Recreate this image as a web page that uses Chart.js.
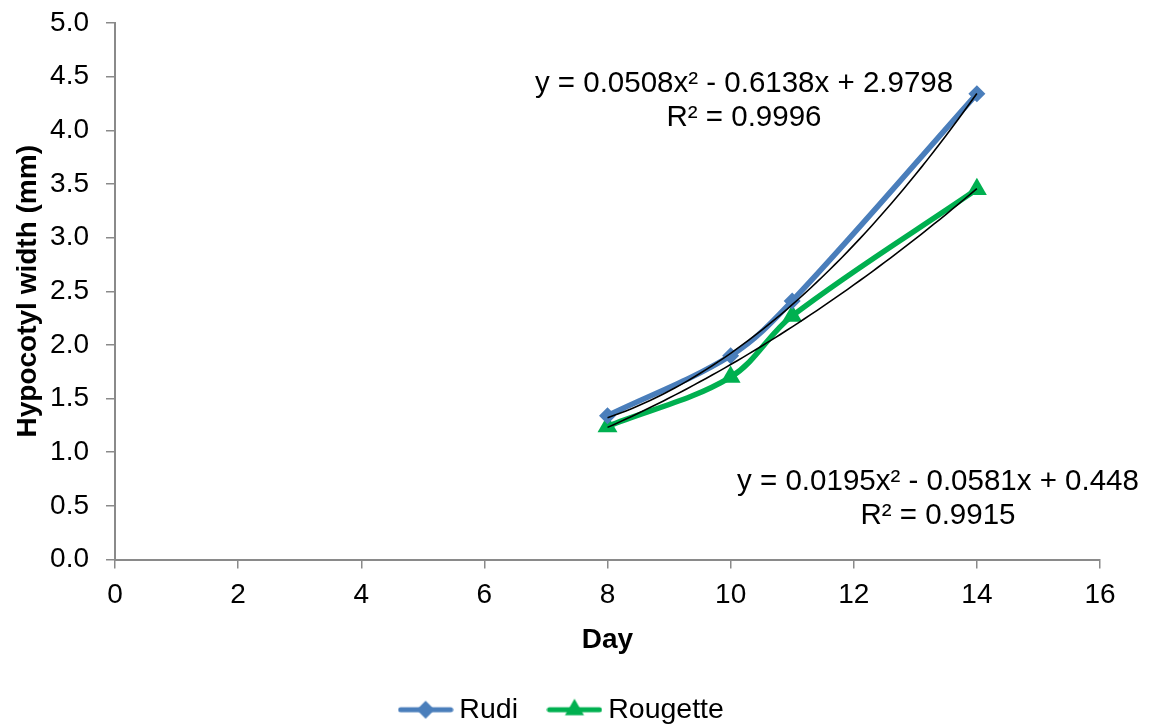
<!DOCTYPE html>
<html>
<head>
<meta charset="utf-8">
<title>Hypocotyl width</title>
<script src="https://cdn.jsdelivr.net/npm/chart.js@4/dist/chart.umd.min.js"></script>
<style>
  html, body { margin: 0; padding: 0; background: #fff; }
  #wrap { width: 1156px; height: 725px; }
</style>
</head>
<body>
<div id="wrap"><canvas id="widthChart" width="1156" height="725"></canvas></div>
<script>
// measured days and hypocotyl widths (mm)
const days = [8, 10, 11, 14];
const rudiWidth = [1.34, 1.90, 2.41, 4.34];
const rougetteWidth = [1.24, 1.70, 2.27, 3.45];

// quadratic trendline coefficients [a, b, c] for y = ax² + bx + c
const rudiFit = [0.0508, -0.6138, 2.9798];
const rougetteFit = [0.0195, -0.0581, 0.448];
const rudiR2 = '0.9996';
const rougetteR2 = '0.9915';

const xTicks = [0, 2, 4, 6, 8, 10, 12, 14, 16];
const yTicks = [0, 0.5, 1, 1.5, 2, 2.5, 3, 3.5, 4, 4.5, 5];

const BLUE = '#4a7ebb';
const GREEN = '#00b050';
const AXIS = '#8a8a8a';
const FONT = "'Liberation Sans', Arial, sans-serif";

function fitCurve(coef) {
    const pts = [];
    for (let i = 0; i <= 60; i++) {
        const x = days[0] + (days[days.length - 1] - days[0]) * i / 60;
        pts.push({ x: x, y: coef[0] * x * x + coef[1] * x + coef[2] });
    }
    return pts;
}

function fmt(n) {
    return Math.abs(n).toString();
}

function equationText(coef) {
    const s1 = coef[1] < 0 ? ' - ' : ' + ';
    const s2 = coef[2] < 0 ? ' - ' : ' + ';
    return 'y = ' + fmt(coef[0]) + 'x²' + s1 + fmt(coef[1]) + 'x' + s2 + fmt(coef[2]);
}

function legendIcon(color, style, radius) {
    const c = document.createElement('canvas');
    c.width = 56;
    c.height = 24;
    const g = c.getContext('2d');
    g.strokeStyle = color;
    g.lineWidth = 5;
    g.lineCap = 'round';
    g.beginPath();
    g.moveTo(3, 12);
    g.lineTo(53, 12);
    g.stroke();
    g.fillStyle = color;
    g.beginPath();
    if (style === 'rectRot') {
        g.moveTo(28, 12 - radius);
        g.lineTo(28 + radius, 12);
        g.lineTo(28, 12 + radius);
        g.lineTo(28 - radius, 12);
    } else {
        const h = radius * 1.5;
        const w = radius * Math.sqrt(3) / 2;
        g.moveTo(28, 12 - radius);
        g.lineTo(28 + w, 12 - radius + h);
        g.lineTo(28 - w, 12 - radius + h);
    }
    g.closePath();
    g.fill();
    return c;
}

const icons = {
    Rudi: legendIcon(BLUE, 'rectRot', 9),
    Rougette: legendIcon(GREEN, 'triangle', 11)
};

// equation labels next to the trendlines
const trendLabels = [
    { lines: [equationText(rudiFit), 'R² = ' + rudiR2], x: 744, y: 84 },
    { lines: [equationText(rougetteFit), 'R² = ' + rougetteR2], x: 938, y: 482 }
];

const trendLabelPlugin = {
    id: 'trendLabels',
    afterDraw(chart) {
        const ctx = chart.ctx;
        ctx.save();
        ctx.font = '29.5px ' + FONT;
        ctx.fillStyle = '#000';
        ctx.textAlign = 'center';
        ctx.textBaseline = 'middle';
        trendLabels.forEach(lbl => {
            lbl.lines.forEach((t, i) => ctx.fillText(t, lbl.x, lbl.y + i * 34));
        });
        ctx.restore();
    }
};

// move the legend row a little lower and to the right
const legendNudge = {
    id: 'legendNudge',
    afterLayout(chart) {
        const lg = chart.legend;
        if (!lg) return;
        lg.top += 9;
        lg.left += 15;
        lg.right += 15;
    }
};

const ctx = document.getElementById('widthChart').getContext('2d');
new Chart(ctx, {
    type: 'scatter',
    data: {
        datasets: [
            {
                label: 'Rudi',
                data: days.map((d, i) => ({ x: d, y: rudiWidth[i] })),
                showLine: true,
                borderColor: BLUE,
                backgroundColor: BLUE,
                borderWidth: 5.5,
                tension: 0.35,
                pointStyle: 'rectRot',
                pointRadius: 8.5,
                pointBorderWidth: 0,
                order: 2
            },
            {
                label: 'Rougette',
                data: days.map((d, i) => ({ x: d, y: rougetteWidth[i] })),
                showLine: true,
                borderColor: GREEN,
                backgroundColor: GREEN,
                borderWidth: 5.5,
                tension: 0.35,
                pointStyle: 'triangle',
                pointRadius: 11.5,
                pointBorderWidth: 0,
                order: 2
            },
            {
                label: 'trend-rudi',
                data: fitCurve(rudiFit),
                showLine: true,
                borderColor: '#000',
                borderWidth: 1.6,
                pointRadius: 0,
                tension: 0,
                order: 1
            },
            {
                label: 'trend-rougette',
                data: fitCurve(rougetteFit),
                showLine: true,
                borderColor: '#000',
                borderWidth: 1.6,
                pointRadius: 0,
                tension: 0,
                order: 1
            }
        ]
    },
    options: {
        responsive: false,
        animation: false,
        events: [],
        layout: { padding: { left: 0, right: 56, top: 23, bottom: 0 } },
        scales: {
            x: {
                type: 'linear',
                min: 0,
                max: 16,
                afterBuildTicks: scale => { scale.ticks = xTicks.map(v => ({ value: v })); },
                afterFit: scale => {
                    scale.height = 90;
                    scale.paddingLeft = 0;
                    scale.paddingRight = 0;
                },
                grid: { drawOnChartArea: false, drawTicks: true, tickLength: 9, color: AXIS, lineWidth: 1.5 },
                border: { display: true, color: AXIS, width: 2 },
                ticks: { color: '#000', font: { family: FONT, size: 28 }, padding: 10, maxRotation: 0 },
                title: {
                    display: true,
                    text: 'Day',
                    color: '#000',
                    font: { family: FONT, size: 28, weight: 'bold' },
                    padding: { top: 0, bottom: -8 }
                }
            },
            y: {
                type: 'linear',
                min: 0,
                max: 5,
                afterBuildTicks: scale => { scale.ticks = yTicks.map(v => ({ value: v })); },
                afterFit: scale => {
                    scale.width = 115;
                    scale.paddingTop = 0;
                    scale.paddingBottom = 0;
                },
                grid: { drawOnChartArea: false, drawTicks: true, tickLength: 9, color: AXIS, lineWidth: 1.5 },
                border: { display: true, color: AXIS, width: 2 },
                ticks: {
                    color: '#000',
                    font: { family: FONT, size: 28 },
                    padding: 17,
                    callback: v => v.toFixed(1)
                },
                title: {
                    display: true,
                    text: 'Hypocotyl width (mm)',
                    color: '#000',
                    font: { family: FONT, size: 28, weight: 'bold' },
                    padding: { top: 11 }
                }
            }
        },
        plugins: {
            tooltip: { enabled: false },
            legend: {
                position: 'bottom',
                labels: {
                    color: '#000',
                    font: { family: FONT, size: 28.5 },
                    usePointStyle: true,
                    pointStyleWidth: 39,
                    padding: 37,
                    generateLabels: chart => {
                        const items = Chart.defaults.plugins.legend.labels.generateLabels(chart);
                        return items
                            .filter(it => icons[it.text])
                            .map(it => Object.assign(it, { pointStyle: icons[it.text] }));
                    }
                }
            }
        }
    },
    plugins: [trendLabelPlugin, legendNudge]
});
</script>
</body>
</html>
